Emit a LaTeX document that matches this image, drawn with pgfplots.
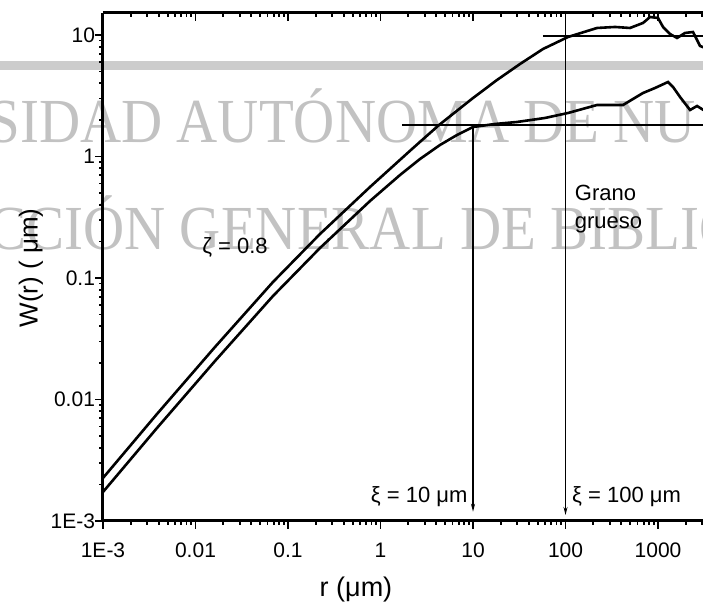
\documentclass[border=0pt]{standalone}
\usepackage{pgfplots}
\pgfplotsset{compat=1.18}
\usetikzlibrary{arrows.meta}
\usepackage{fontspec}
\setmainfont{Liberation Sans}
\newfontfamily\wmfont{Liberation Serif}

\pgfplotstableread{
r W
0.001 0.002259
0.003836 0.007599
0.01625 0.02704
0.06884 0.09271
0.2218 0.2302
0.7700 0.5610
2.191 1.153
4.290 1.816
10 3.030
18.17 4.262
32.22 5.771
57.12 7.671
106.4 9.627
219.1 11.42
342.9 11.64
498.1 11.42
688.4 12.56
819.4 14.06
1000 13.80
1133 11.64
1348 10.19
1605 9.447
1958 10.39
2390 10.58
2846 8.121
3223 7.817
}\tabUpper

\pgfplotstableread{
r W
0.001 0.001733
0.003836 0.005826
0.01625 0.02074
0.06884 0.07110
0.2218 0.1766
0.7700 0.4302
1.625 0.7041
2.673 0.9537
4.398 1.244
6.714 1.503
10 1.749
17.29 1.852
29.91 1.923
60.03 2.075
106.4 2.280
219.1 2.654
418.4 2.654
688.4 3.332
928.2 3.663
1283 4.105
1453 3.733
1729 3.088
2218 2.414
2640 2.604
3223 2.368
}\tabLower

\pgfplotsset{
  mycommon/.style={
    at={(51.5pt,46.5pt)}, anchor=south west,
    scale only axis, width=300pt, height=254pt,
    xmin=1e-3, xmax=3062, ymin=1e-3, ymax=15.17,
    xtick={1e-3,1e-2,1e-1,1,10,100,1000},
    ytick={1e-3,1e-2,1e-1,1,10},
    minor xtick={2e-3,3e-3,4e-3,5e-3,6e-3,7e-3,8e-3,9e-3,2e-2,3e-2,4e-2,5e-2,6e-2,7e-2,8e-2,9e-2,0.2,0.3,0.4,0.5,0.6,0.7,0.8,0.9,2,3,4,5,6,7,8,9,20,30,40,50,60,70,80,90,200,300,400,500,600,700,800,900,2000,3000},
    minor ytick={2e-3,3e-3,4e-3,5e-3,6e-3,7e-3,8e-3,9e-3,2e-2,3e-2,4e-2,5e-2,6e-2,7e-2,8e-2,9e-2,0.2,0.3,0.4,0.5,0.6,0.7,0.8,0.9,2,3,4,5,6,7,8,9},
    axis line style={line width=1.5pt},
    major tick length=4pt, minor tick length=2pt,
    every tick/.style={black, line width=0.9pt},
  }
}

\begin{document}
\begin{tikzpicture}[x=0.5pt,y=0.5pt]
\useasboundingbox (0,0) rectangle (703,614);
% scanned watermark (background)
\fill[black!20] (0,544) rectangle (703,553);
\node[anchor=base west, inner sep=0, yscale=1.1, text=black!24, font=\wmfont\fontsize{28.5}{30}\selectfont] at (-12,471) {SIDAD AUTÓNOMA DE NU};
\node[anchor=base west, inner sep=0, yscale=1.1, text=black!24, font=\wmfont\fontsize{28.5}{30}\selectfont] at (-12,364) {CCIÓN GENERAL DE BIBLIO};

\begin{loglogaxis}[mycommon,
  axis x line*=top, hide y axis, tick align=inside,
  xticklabels={}]
\end{loglogaxis}

\begin{loglogaxis}[mycommon,
  axis x line*=bottom, axis y line*=left, tick align=outside,
  xticklabels={1E-3,0.01,0.1,1,10,100,1000},
  yticklabels={1E-3,0.01,0.1,1,10},
  tick label style={font=\fontsize{10.5}{12}\selectfont},
  xticklabel style={yshift=-3.5pt},
  yticklabel style={xshift=3.5pt},
]
\addplot[black, line width=1.3pt] table[x=r,y=W] {\tabUpper};
\addplot[black, line width=1.3pt] table[x=r,y=W] {\tabLower};
% reference lines
\addplot[black, line width=0.8pt] coordinates {(1.7,1.82) (3300,1.82)};
\addplot[black, line width=0.8pt] coordinates {(57,9.8) (3300,9.8)};
\addplot[black, line width=0.8pt, -{Stealth[length=4pt,width=2pt]}] coordinates {(10,1.82) (10,0.00119)};
\addplot[black, line width=0.8pt, -{Stealth[length=4pt,width=2pt]}] coordinates {(100,15.17) (100,0.00112)};
% annotations
\node[font=\fontsize{11}{13}\selectfont] at (axis cs:0.0267,0.177) {ζ = 0.8};
\node[anchor=west, align=left, inner sep=0, font=\fontsize{11}{14}\selectfont] at (axis cs:125,0.37) {Grano\\grueso};
\node[anchor=east, inner sep=0, font=\fontsize{11}{13}\selectfont] at (axis cs:8.8,0.00158) {ξ = 10 μm};
\node[anchor=west, inner sep=0, font=\fontsize{11}{13}\selectfont] at (axis cs:117,0.00158) {ξ = 100 μm};
\end{loglogaxis}

\node[font=\fontsize{13.5}{16}\selectfont] at (356,24) {r (μm)};
\node[font=\fontsize{13}{16}\selectfont, rotate=90] at (31,346) {W(r) ( μm)};
\end{tikzpicture}
\end{document}
